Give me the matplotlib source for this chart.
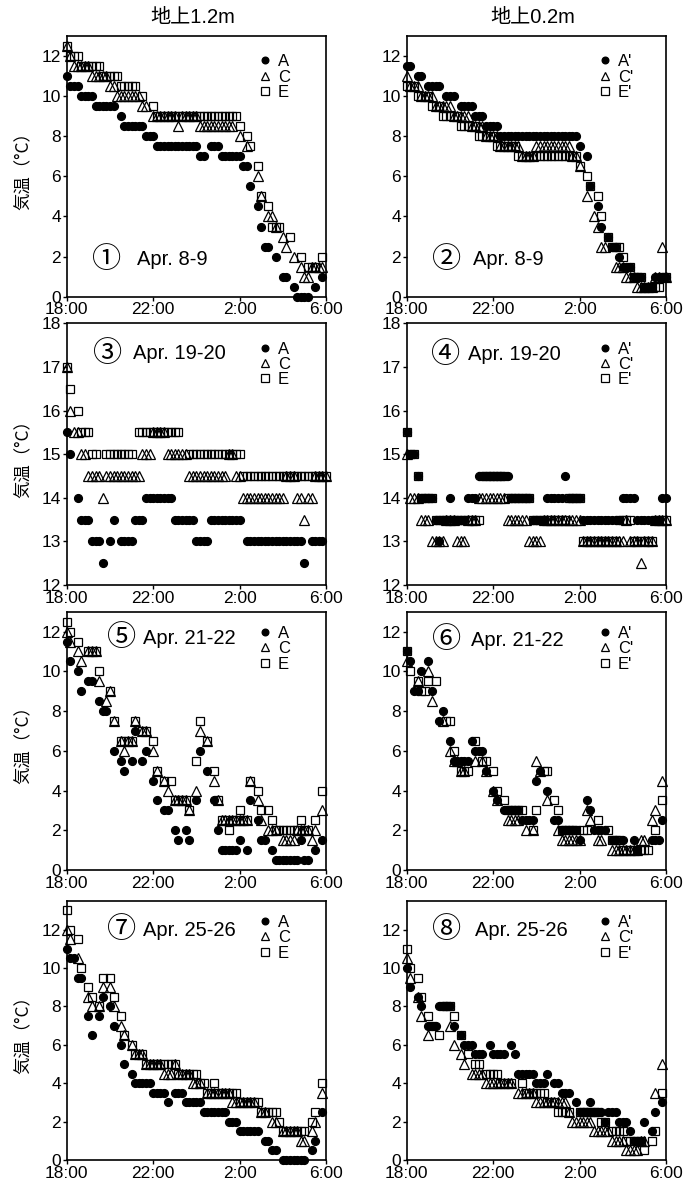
import numpy as np
import matplotlib
matplotlib.use("Agg")
import matplotlib.pyplot as plt

plt.rcParams["font.family"] = ["Liberation Sans", "Noto Sans CJK JP"]

nan = np.nan

# readings every 10 min from 18:00 (index 0) to 6:00 (index 72)
minutes = np.arange(73) * 10
time_ticks = [0, 240, 480, 720]
time_labels = ["18:00", "22:00", "2:00", "6:00"]

# ---- Apr. 8-9 ----
a12_0408 = [11.0, 10.5, 10.5, 10.5, 10.0, 10.0, 10.0, 10.0, 9.5, 9.5, 9.5, 9.5,
            9.5, 9.5, nan, 9.0, 8.5, 8.5, 8.5, 8.5, 8.5, 8.5, 8.0, 8.0,
            8.0, 7.5, 7.5, 7.5, 7.5, 7.5, 7.5, 7.5, 7.5, 7.5, 7.5, 7.5,
            7.5, 7.0, 7.0, nan, 7.5, 7.5, 7.5, 7.0, 7.0, 7.0, 7.0, 7.0,
            7.0, 6.5, 6.5, 5.5, nan, 4.5, 3.5, 2.5, 2.5, nan, 2.0, nan,
            1.0, 1.0, nan, 0.5, 0.0, 0.0, 0.0, 0.0, nan, 0.5, nan, 1.0,
            nan]
c12_0408 = [12.5, 12.0, 11.5, 11.5, 11.5, 11.5, 11.5, 11.0, 11.0, 11.0, 11.0, 11.0,
            10.5, 10.5, 10.0, 10.0, 10.0, 10.0, 10.0, 10.0, 10.0, 9.5, 9.5, nan,
            9.0, 9.0, 9.0, 9.0, 9.0, 9.0, 9.0, 8.5, 9.0, 9.0, 9.0, 9.0,
            9.0, 8.5, 8.5, 8.5, 8.5, 8.5, 8.5, 8.5, 8.5, 8.5, 8.5, nan,
            8.0, nan, 7.5, nan, nan, 6.0, 5.0, nan, 4.0, 4.0, 3.5, nan,
            3.0, 2.5, nan, 2.0, nan, 1.5, 1.0, 1.0, 1.5, 1.5, 1.5, 1.5,
            nan]
e12_0408 = [12.5, 12.0, 12.0, 12.0, 11.5, 11.5, 11.5, 11.5, 11.5, 11.5, 11.0, 11.0,
            11.0, 11.0, 11.0, 10.5, 10.5, 10.5, 10.5, 10.5, nan, 10.0, nan, nan,
            9.5, 9.0, 9.0, 9.0, 9.0, 9.0, 9.0, 9.0, 9.0, 9.0, 9.0, 9.0,
            9.0, 9.0, 9.0, 9.0, 9.0, 9.0, 9.0, 9.0, 9.0, 9.0, 9.0, 9.0,
            8.5, nan, 8.0, 7.5, nan, 6.5, 5.0, nan, 4.5, 3.5, 3.5, 3.5,
            nan, nan, 3.0, nan, nan, 2.0, nan, 1.5, 1.5, 1.5, nan, 2.0,
            nan]
a02_0408 = [11.5, 11.5, nan, 11.0, 11.0, nan, 10.5, 10.5, 10.5, 10.5, nan, 10.0,
            10.0, 10.0, nan, 9.5, 9.5, 9.5, 9.5, 9.0, 9.0, 9.0, 8.5, 8.5,
            8.5, 8.5, 8.0, 8.0, 8.0, 8.0, 8.0, 8.0, 8.0, 8.0, 8.0, 8.0,
            8.0, 8.0, 8.0, 8.0, 8.0, 8.0, 8.0, 8.0, 8.0, 8.0, 8.0, 8.0,
            7.5, nan, 7.0, 5.5, nan, 4.5, 3.5, nan, 3.0, 2.5, 2.5, 2.0,
            1.5, 1.5, 1.5, 1.0, 1.0, 1.0, 0.5, 0.5, 0.5, 1.0, 1.0, 1.0,
            1.0]
c02_0408 = [11.0, 10.5, 10.5, 10.5, 10.0, 10.0, 10.0, 10.0, 9.5, 9.5, 9.5, 9.5,
            9.5, 9.0, 9.0, 9.0, 9.0, 9.0, 8.5, 8.5, 8.5, 8.5, 8.0, 8.0,
            8.0, 8.0, 7.5, 7.5, 7.5, 7.5, 7.5, 7.5, 7.0, 7.0, 7.0, 7.0,
            7.5, 7.5, 7.5, 7.5, 7.5, 7.5, 7.5, 7.5, 7.5, 7.5, 7.0, 7.0,
            6.5, nan, 5.0, nan, 4.0, 3.5, 2.5, 2.5, nan, nan, 1.5, 1.5,
            1.5, 1.0, 1.0, 1.0, 0.5, 0.5, 0.5, 0.5, 0.5, 1.0, 1.0, 2.5,
            1.0]
e02_0408 = [10.5, 10.5, 10.5, 10.0, 10.0, 10.0, 10.0, 9.5, 9.5, 9.5, 9.0, 9.0,
            9.0, 9.0, 9.0, 8.5, 8.5, 8.5, 8.5, 8.5, 8.0, 8.0, 8.0, 8.0,
            8.0, 7.5, 7.5, 7.5, 7.5, 7.5, 7.5, 7.0, 7.0, 7.0, 7.0, 7.0,
            7.0, 7.0, 7.0, 7.0, 7.0, 7.0, 7.0, 7.0, 7.0, 7.0, 7.0, 7.0,
            6.5, nan, 6.0, 5.5, nan, 5.0, 4.0, nan, 3.0, 2.5, 2.5, 2.5,
            2.0, nan, 1.5, 1.0, 1.0, 1.0, 0.5, 0.5, 0.5, 0.5, 0.5, 1.0,
            1.0]

# ---- Apr. 19-20 ----
a12_0419 = [15.5, 15.0, nan, 14.0, 13.5, 13.5, 13.5, 13.0, 13.0, 13.0, 12.5, nan,
            13.0, 13.5, nan, 13.0, 13.0, 13.0, 13.0, 13.5, 13.5, 13.5, 14.0, 14.0,
            14.0, 14.0, 14.0, 14.0, 14.0, 14.0, 13.5, 13.5, 13.5, 13.5, 13.5, 13.5,
            13.0, 13.0, 13.0, 13.0, 13.5, 13.5, 13.5, 13.5, 13.5, 13.5, 13.5, 13.5,
            13.5, nan, 13.0, 13.0, 13.0, 13.0, 13.0, 13.0, 13.0, 13.0, 13.0, 13.0,
            13.0, 13.0, 13.0, 13.0, 13.0, 13.0, 12.5, nan, 13.0, 13.0, 13.0, 13.0,
            nan]
c12_0419 = [17.0, 16.0, 15.5, 15.5, 15.0, 15.0, 14.5, 14.5, 14.5, 14.5, 14.0, 14.5,
            14.5, 14.5, 14.5, 14.5, 14.5, 14.5, 14.5, 14.5, 14.5, 15.0, 15.0, 15.0,
            15.5, 15.5, 15.5, 15.5, 15.0, 15.0, 15.0, 15.0, 15.0, 15.0, 14.5, 14.5,
            14.5, 14.5, 14.5, 14.5, 14.5, 14.5, 14.5, 14.5, 14.5, 15.0, 15.0, 14.5,
            14.5, 14.0, 14.0, 14.0, 14.0, 14.0, 14.0, 14.0, 14.0, 14.0, 14.0, 14.0,
            14.0, 14.5, 14.5, 14.5, 14.0, 14.0, 13.5, 14.0, 14.0, 14.5, 14.5, 14.5,
            14.5]
e12_0419 = [17.0, 16.5, nan, 16.0, 15.5, 15.5, 15.5, 15.0, 15.0, nan, nan, 15.0,
            15.0, 15.0, 15.0, 15.0, 15.0, 15.0, 15.0, nan, 15.5, 15.5, 15.5, 15.5,
            15.5, 15.5, 15.5, 15.5, 15.5, 15.5, 15.5, 15.5, nan, nan, 15.0, 15.0,
            15.0, 15.0, 15.0, 15.0, 15.0, 15.0, 15.0, 15.0, 15.0, 15.0, 15.0, 15.0,
            15.0, 14.5, 14.5, 14.5, 14.5, 14.5, 14.5, 14.5, 14.5, 14.5, 14.5, 14.5,
            14.5, 14.5, 14.5, 14.5, 14.5, 14.5, 14.5, 14.5, 14.5, 14.5, 14.5, 14.5,
            14.5]
a02_0419 = [15.5, 15.0, 15.0, 14.5, 14.0, 14.0, 14.0, 14.0, 13.5, 13.0, 13.5, 13.5,
            14.0, 13.5, 13.5, 13.5, 13.5, 14.0, 14.0, 14.0, 14.5, 14.5, 14.5, 14.5,
            14.5, 14.5, 14.5, 14.5, 14.5, 14.0, 14.0, 14.0, 14.0, 14.0, 14.0, 13.5,
            13.5, 13.5, 13.5, 14.0, 14.0, 14.0, 14.0, 14.0, 14.5, 14.0, 14.0, 14.0,
            14.0, 13.5, 13.5, 13.5, 13.5, 13.5, 13.5, 13.5, 13.5, 13.5, 13.5, 13.5,
            14.0, 14.0, 14.0, 14.0, 13.5, 13.5, 13.5, 13.5, 13.5, 13.5, 13.5, 14.0,
            14.0]
c02_0419 = [15.0, 14.0, 14.0, 14.0, 13.5, 13.5, 13.5, 13.0, 13.0, 13.0, 13.0, 13.5,
            13.5, 13.5, 13.0, 13.0, 13.0, 13.5, 13.5, 13.5, 14.0, 14.0, 14.0, 14.0,
            14.0, 14.0, 14.0, 14.0, 13.5, 13.5, 13.5, 13.5, 13.5, 13.5, 13.0, 13.0,
            13.0, 13.0, 13.5, 13.5, 13.5, 13.5, 13.5, 13.5, 13.5, 13.5, 13.5, 13.5,
            13.5, 13.0, 13.0, 13.0, 13.0, 13.0, 13.0, 13.0, 13.0, 13.0, 13.0, 13.0,
            13.0, 13.5, 13.0, 13.0, 13.0, 12.5, 13.0, 13.0, 13.0, 13.5, 13.5, 13.5,
            13.5]
e02_0419 = [15.5, 15.0, 15.0, 14.5, 14.0, 14.0, 14.0, 14.0, 13.5, 13.5, 13.5, 13.5,
            13.5, 13.5, 13.5, 13.5, 13.5, 13.5, 13.5, 13.5, 13.5, 14.5, 14.5, 14.5,
            14.5, 14.5, 14.5, 14.5, 14.0, 14.0, 14.0, 14.0, 14.0, 14.0, 14.0, 13.5,
            13.5, 13.5, 13.5, 13.5, 13.5, 13.5, 13.5, 13.5, 13.5, 14.0, 14.0, 14.0,
            14.0, 13.0, 13.0, 13.0, 13.0, 13.0, 13.0, 13.0, 13.0, 13.0, 13.0, 13.5,
            13.5, 13.5, 13.5, 13.0, 13.0, 13.0, 13.0, 13.0, 13.0, 13.5, 13.5, 13.5,
            13.5]

# ---- Apr. 21-22 ----
a12_0421 = [11.5, 10.5, nan, 10.0, 9.0, nan, 9.5, 9.5, nan, 8.5, 8.0, 8.0,
            nan, 6.0, nan, 5.5, 5.0, nan, 5.5, 7.0, nan, 5.5, 6.0, nan,
            4.5, 3.5, nan, 3.0, 3.0, nan, 2.0, 1.5, nan, 2.0, 1.5, nan,
            3.5, 6.0, nan, 5.0, nan, 3.5, 2.0, 1.0, 1.0, 1.0, 1.0, 1.0,
            1.5, nan, 1.0, 3.5, nan, 2.5, 1.5, 1.5, nan, 1.0, 0.5, 0.5,
            0.5, 0.5, 0.5, 0.5, 0.5, 1.5, 0.5, 0.5, nan, 1.0, nan, 1.5,
            nan]
c12_0421 = [12.0, 11.5, nan, 11.0, 10.5, nan, 11.0, 11.0, 11.0, 9.5, nan, 8.5,
            9.0, 7.5, nan, 6.5, 6.0, 6.5, 6.5, 7.5, nan, 7.0, 7.0, nan,
            6.0, 5.0, nan, 4.5, 4.0, nan, 3.5, 3.5, 3.5, 3.5, 3.0, nan,
            4.0, 7.0, nan, 6.5, nan, 4.5, 3.5, 2.5, 2.5, 2.5, 2.5, 2.5,
            2.5, 2.5, 2.5, 4.5, nan, 3.5, 2.5, nan, 2.0, 2.0, 2.0, nan,
            1.5, 1.5, 1.5, 1.5, 2.0, 2.0, 2.0, 2.0, 1.5, 2.0, nan, 3.0,
            nan]
e12_0421 = [12.5, 12.0, nan, 11.5, nan, nan, 11.0, 11.0, 11.0, 10.0, nan, nan,
            9.0, 7.5, nan, 6.5, 6.5, 6.5, 6.5, 7.5, nan, 7.0, 7.0, nan,
            6.5, 5.0, nan, 4.5, nan, 4.5, 3.5, 3.5, 3.5, 3.5, 3.0, nan,
            5.5, 7.5, nan, 6.5, nan, 5.0, 3.5, 2.5, 2.5, 2.0, 2.5, 2.5,
            3.0, 2.5, 2.5, 4.5, nan, 4.0, 3.0, nan, 3.0, 2.5, 2.0, 2.0,
            2.0, 2.0, 2.0, 2.0, 2.0, 2.5, 2.0, 2.0, nan, 2.5, nan, 4.0,
            nan]
a02_0421 = [11.0, 10.5, 9.0, 9.0, 10.0, nan, 10.5, 9.0, nan, 7.5, 8.0, nan,
            6.5, 5.5, 5.5, 5.5, 5.5, 5.5, 6.5, 6.0, 6.0, 6.0, 5.0, nan,
            4.0, 3.5, nan, 3.0, 3.0, 3.0, 3.0, 3.0, 2.5, 2.5, 2.5, 2.5,
            4.5, 5.0, nan, 4.0, nan, 2.5, 2.5, 2.0, 2.0, 2.0, 2.0, 2.0,
            1.5, nan, 3.5, 3.0, 2.0, 2.0, 2.0, 2.0, nan, 1.5, 1.5, nan,
            1.5, nan, nan, 1.5, 1.0, nan, nan, nan, 1.5, 1.5, 1.5, 2.5,
            nan]
c02_0421 = [10.5, nan, nan, 9.5, nan, nan, 10.0, 8.5, nan, nan, 7.5, nan,
            6.0, 5.5, 5.5, 5.0, 5.0, nan, nan, 5.5, nan, 5.5, 5.0, nan,
            4.0, 3.5, nan, nan, 2.5, 2.5, 2.5, 2.5, nan, 2.0, nan, 2.0,
            5.5, 5.0, nan, 3.5, nan, nan, 2.0, 1.5, 1.5, 1.5, 1.5, 1.5,
            1.5, nan, 3.0, 2.5, nan, 1.5, 1.5, nan, nan, 1.0, 1.0, 1.0,
            1.0, 1.0, 1.0, 1.0, 1.0, 1.5, 1.5, nan, 2.5, 3.0, nan, 4.5,
            nan]
e02_0421 = [11.0, 10.0, nan, 9.5, 9.0, 9.0, 9.5, nan, 9.5, nan, nan, 7.5,
            7.5, 6.0, nan, 5.0, 5.0, 5.0, nan, 6.5, nan, 5.5, 5.5, nan,
            5.0, 4.0, nan, 3.5, 3.0, 3.0, 3.0, 3.0, 3.0, nan, nan, 2.0,
            3.0, nan, 5.0, 5.0, nan, 3.5, 3.0, 2.0, 2.0, 2.0, 2.0, 2.0,
            nan, 2.0, 2.0, nan, nan, 2.5, nan, nan, 2.0, 1.5, 1.5, 1.5,
            1.0, 1.0, 1.0, 1.0, 1.0, 1.0, 1.0, 1.0, nan, 2.0, nan, 3.5,
            nan]

# ---- Apr. 25-26 ----
a12_0425 = [11.0, 10.5, 10.5, 9.5, 9.5, nan, 7.5, 6.5, nan, 7.5, 8.5, nan,
            8.0, 7.0, nan, 6.0, 5.0, nan, 4.5, 4.0, 4.0, 4.0, 4.0, 4.0,
            3.5, 3.5, 3.5, 3.5, 3.0, nan, 3.5, 3.5, 3.5, 3.0, 3.0, 3.0,
            3.0, 3.0, 2.5, 2.5, 2.5, 2.5, 2.5, 2.5, 2.5, 2.0, 2.0, 2.0,
            1.5, 1.5, 1.5, 1.5, 1.5, 1.5, nan, 1.0, 1.0, 0.5, 0.5, nan,
            0.0, 0.0, 0.0, 0.0, 0.0, 0.0, 0.0, nan, 0.5, 1.0, nan, 2.5,
            nan]
c12_0425 = [12.0, 11.5, nan, 10.5, nan, nan, 8.5, 8.0, nan, 8.0, 9.0, nan,
            9.0, 8.0, nan, 7.0, 6.5, nan, 6.0, 5.5, 5.5, 5.5, 5.0, 5.0,
            5.0, 5.0, 5.0, 4.5, 4.5, 4.5, 5.0, 4.5, 4.5, 4.5, 4.5, 4.0,
            4.0, 4.0, nan, 3.5, 3.5, 3.5, 3.5, 3.5, 3.5, 3.5, 3.0, 3.0,
            3.0, 3.0, 3.0, 3.0, 3.0, nan, 2.5, 2.5, nan, 2.0, 2.0, nan,
            1.5, 1.5, 1.5, 1.5, 1.5, 1.0, 1.0, nan, 1.5, 2.0, nan, 3.5,
            nan]
e12_0425 = [13.0, 12.0, nan, 11.5, 10.0, nan, 9.0, 8.5, nan, 8.0, 9.5, nan,
            9.5, 8.5, nan, 7.5, 6.5, nan, 6.0, 5.5, 5.5, 5.5, 5.0, 5.0,
            5.0, 5.0, 5.0, 5.0, 5.0, 5.0, 5.0, 4.5, 4.5, 4.5, 4.5, 4.5,
            4.5, 4.0, 4.0, 3.5, 3.5, 4.0, 3.5, 3.5, 3.5, 3.5, 3.5, 3.5,
            3.0, 3.0, 3.0, 3.0, 3.0, 3.0, 2.5, 2.5, 2.5, 2.5, 2.5, 2.0,
            1.5, 1.5, 1.5, 1.5, 1.5, 1.5, 1.5, nan, 2.0, 2.5, nan, 4.0,
            nan]
a02_0425 = [10.0, 9.0, nan, 8.5, 8.0, nan, 7.0, 7.0, 7.0, 8.0, 8.0, 8.0,
            8.0, 7.0, nan, 6.5, 6.0, 6.0, 6.0, 5.5, 5.5, 5.5, nan, 6.0,
            5.5, 5.5, 5.5, 5.5, nan, 6.0, 5.5, 4.5, 4.5, 4.5, 4.5, 4.5,
            4.0, 4.0, 4.0, 4.5, nan, 4.0, 4.0, 3.5, 3.5, 3.5, nan, 3.0,
            2.5, 2.5, 2.5, 3.0, 2.5, 2.5, 2.5, 2.0, 2.5, 2.5, 2.5, 2.0,
            2.0, 2.0, 1.5, 1.0, 1.0, 1.0, 2.0, nan, 1.5, 2.5, nan, 3.0,
            nan]
c02_0425 = [10.5, 9.5, nan, 8.5, 7.5, nan, 6.5, nan, nan, nan, nan, nan,
            7.0, 6.0, nan, 5.5, 5.0, nan, 4.5, 4.5, 4.5, 4.5, 4.0, 4.0,
            4.0, 4.0, 4.0, 4.0, 4.0, 4.0, nan, 3.5, 3.5, 3.5, 3.5, 3.5,
            3.0, 3.0, 3.0, 3.0, 3.0, 3.0, 3.0, 3.0, 3.0, 2.5, 2.0, 2.0,
            2.0, 2.0, 2.0, 2.0, 1.5, 1.5, 1.5, 1.5, 1.5, 1.0, 1.0, 1.0,
            1.0, 0.5, 0.5, 0.5, 0.5, 1.0, 1.0, nan, nan, 3.5, nan, 5.0,
            nan]
e02_0425 = [11.0, 10.0, nan, 9.5, 8.5, nan, 7.5, 7.0, nan, 6.5, 8.0, 8.0,
            8.0, 7.5, nan, 6.5, nan, 5.5, nan, 5.0, 5.0, nan, 4.5, 4.5,
            4.5, 4.5, 4.0, 4.0, 4.0, 4.0, nan, nan, 4.0, 3.5, 3.5, 3.5,
            3.5, 3.5, 3.5, 3.0, 3.0, 3.0, 2.5, 2.5, 2.5, 2.5, nan, nan,
            2.5, 2.5, 2.5, 2.5, 2.5, 2.5, 2.0, 2.0, nan, 1.5, 1.5, 1.5,
            1.5, 1.0, 1.0, 1.0, 1.0, 1.0, 0.5, nan, 1.0, 1.5, nan, 3.5,
            nan]

panels = [
    ("①", "Apr. 8-9", a12_0408, c12_0408, e12_0408, ["A", "C", "E"]),
    ("②", "Apr. 8-9", a02_0408, c02_0408, e02_0408, ["A'", "C'", "E'"]),
    ("③", "Apr. 19-20", a12_0419, c12_0419, e12_0419, ["A", "C", "E"]),
    ("④", "Apr. 19-20", a02_0419, c02_0419, e02_0419, ["A'", "C'", "E'"]),
    ("⑤", "Apr. 21-22", a12_0421, c12_0421, e12_0421, ["A", "C", "E"]),
    ("⑥", "Apr. 21-22", a02_0421, c02_0421, e02_0421, ["A'", "C'", "E'"]),
    ("⑦", "Apr. 25-26", a12_0425, c12_0425, e12_0425, ["A", "C", "E"]),
    ("⑧", "Apr. 25-26", a02_0425, c02_0425, e02_0425, ["A'", "C'", "E'"]),
]

ylims = [(0, 13), (0, 13), (12, 18), (12, 18), (0, 13), (0, 13), (0, 13.5), (0, 13.5)]

# layout in pixels of the original picture
W, H = 685, 1183
col_left = [66.7, 406.7]
row_top = [36, 323.3, 611.7, 900.7]
row_bottom = [296.7, 585, 870, 1160]
ax_w = 259.3
legend_top = [0.93, 0.93, 0.945, 0.945]

# circled number x, date x, y  (axes fraction)
label_pos = [(0.155, 0.27, 0.141), (0.154, 0.257, 0.141),
             (0.157, 0.257, 0.883), (0.151, 0.238, 0.879),
             (0.212, 0.295, 0.897), (0.154, 0.248, 0.89),
             (0.212, 0.295, 0.887), (0.154, 0.263, 0.887)]

fig = plt.figure(figsize=(W / 100, H / 100), dpi=100)

for k, (num, date, a, c, e, names) in enumerate(panels):
    row, col = divmod(k, 2)
    l = col_left[col] / W
    b = 1 - row_bottom[row] / H
    h = (row_bottom[row] - row_top[row]) / H
    ax = fig.add_axes([l, b, ax_w / W, h])

    he, = ax.plot(minutes, np.array(e, dtype=float), ls="none", marker="s", ms=6.3,
                  mfc="none", mec="black", mew=0.9, clip_on=False)
    hc, = ax.plot(minutes, np.array(c, dtype=float), ls="none", marker="^", ms=6.8,
                  mfc="none", mec="black", mew=0.9, clip_on=False)
    ha, = ax.plot(minutes, np.array(a, dtype=float), ls="none", marker="o", ms=5.6,
                  mfc="black", mec="black", clip_on=False)

    ax.set_xlim(0, 720)
    ax.set_ylim(*ylims[k])
    ax.set_xticks(time_ticks)
    ax.set_xticklabels(time_labels)
    lo, hi = ylims[k]
    if hi - lo <= 6:
        ax.set_yticks(np.arange(lo, hi + 0.1, 1))
    else:
        ax.set_yticks(np.arange(0, 12.1, 2))
    ax.tick_params(direction="out", length=3, width=1, pad=1, labelsize=12.5)
    for sp in ax.spines.values():
        sp.set_linewidth(1.2)

    leg = ax.legend([ha, hc, he], names, loc="upper left",
                    bbox_to_anchor=(0.74, legend_top[row]),
                    frameon=False, fontsize=12, handlelength=0.8, handletextpad=0.35,
                    labelspacing=0.02, borderpad=0, borderaxespad=0, markerscale=0.85)

    xn, xd, yy = label_pos[k]
    ax.text(xn, yy, num, transform=ax.transAxes, ha="center", va="center",
            fontsize=21, family="Noto Sans CJK JP")
    ax.text(xd, yy, date, transform=ax.transAxes, ha="left", va="center",
            fontsize=14.5)

    if col == 0:
        yc = 1 - (row_top[row] + row_bottom[row]) / 2 / H
        fig.text(24 / W, yc, "気温（°C）", rotation=90, ha="center", va="center",
                 fontsize=12.5, family="Noto Sans CJK JP")

fig.text(193 / W, 1 - 18 / H, "地上1.2m", ha="center", va="center", fontsize=14.5)
fig.text(533 / W, 1 - 18 / H, "地上0.2m", ha="center", va="center", fontsize=14.5)

fig.savefig("out.png", dpi=100)
